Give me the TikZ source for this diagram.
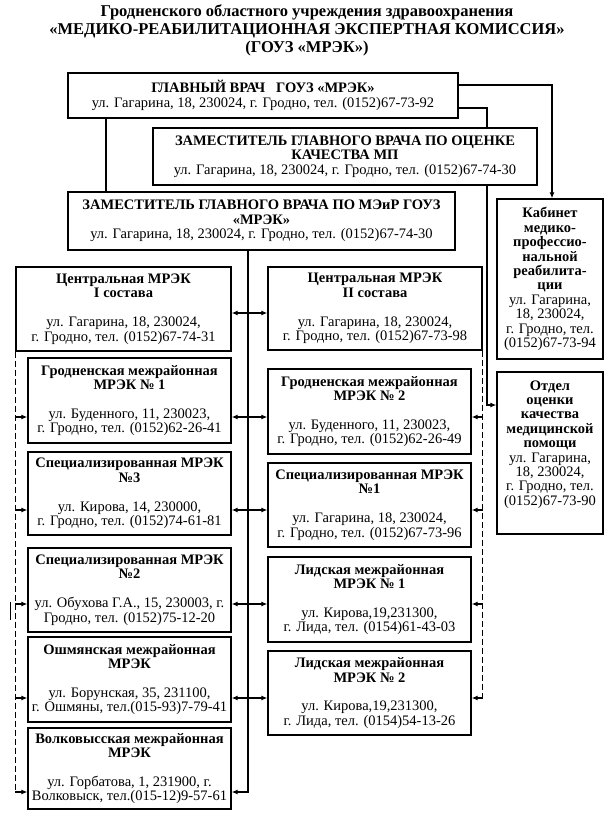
\documentclass[tikz,border=0pt]{standalone}
\usepackage{fontspec}
\setmainfont{Liberation Serif}
\usetikzlibrary{arrows.meta,calc}
\begin{document}
\begin{tikzpicture}[x=1pt,y=-1pt,
  box/.style={draw, line width=1.3pt, align=center, inner sep=1.5pt,
    font=\fontsize{14.5}{14.4}\selectfont},
  conn/.style={line width=1.3pt},
  arr/.style={line width=1.3pt, -{Latex[length=6pt,width=5pt]}},
  darr/.style={line width=1.3pt, {Latex[length=6pt,width=5pt]}-{Latex[length=6pt,width=5pt]}},
  dashline/.style={line width=1.1pt, dash pattern=on 6pt off 3pt}]
\useasboundingbox (0,0) rectangle (611,818);

\node[align=center, font=\bfseries\fontsize{16.5}{18}\selectfont] (title) at (307,30)
  {Гродненского областного учреждения здравоохранения\\
   «МЕДИКО-РЕАБИЛИТАЦИОННАЯ ЭКСПЕРТНАЯ КОМИССИЯ»\\
   (ГОУЗ «МРЭК»)};

% top boxes
\node[box, minimum width=390, minimum height=45] (gv) at (263,95.5)
  {\textbf{ГЛАВНЫЙ ВРАЧ\ \ \ ГОУЗ «МРЭК»}\\ул. Гагарина, 18, 230024, г. Гродно, тел. (0152)67-73-92};
\node[box, minimum width=384, minimum height=57] (zk) at (345,156.5)
  {\textbf{ЗАМЕСТИТЕЛЬ ГЛАВНОГО ВРАЧА ПО ОЦЕНКЕ}\\\textbf{КАЧЕСТВА МП}\\ул. Гагарина, 18, 230024, г. Гродно, тел. (0152)67-74-30};
\node[box, minimum width=387, minimum height=58] (zm) at (261.5,221)
  {\textbf{ЗАМЕСТИТЕЛЬ ГЛАВНОГО ВРАЧА ПО МЭиР ГОУЗ}\\\textbf{«МРЭК»}\\ул. Гагарина, 18, 230024, г. Гродно, тел. (0152)67-74-30};

% right side boxes
\node[box, minimum width=106, minimum height=160] (kab) at (550,279)
  {\textbf{Кабинет}\\\textbf{медико-}\\\textbf{профессио-}\\\textbf{нальной}\\\textbf{реабилита-}\\\textbf{ции}\\ул. Гагарина,\\18, 230024,\\г. Гродно, тел.\\(0152)67-73-94};
\node[box, minimum width=106, minimum height=162] (otd) at (550,453)
  {\textbf{Отдел}\\\textbf{оценки}\\\textbf{качества}\\\textbf{медицинской}\\\textbf{помощи}\\ул. Гагарина,\\18, 230024,\\г. Гродно, тел.\\(0152)67-73-90\\[6pt]{}};

% left column
\node[box, minimum width=215, minimum height=84] (c1) at (123.5,309)
  {\textbf{Центральная МРЭК}\\\textbf{I состава}\\[14.4pt]ул. Гагарина, 18, 230024,\\г. Гродно, тел. (0152)67-74-31};
\node[box, minimum width=203, minimum height=85] (g1) at (129.5,400.5)
  {\textbf{Гродненская межрайонная}\\\textbf{МРЭК № 1}\\[14.4pt]ул. Буденного, 11, 230023,\\г. Гродно, тел. (0152)62-26-41};
\node[box, minimum width=203, minimum height=83] (s3) at (129.5,493.5)
  {\textbf{Специализированная МРЭК}\\\textbf{№3}\\[14.4pt]ул. Кирова, 14, 230000,\\г. Гродно, тел. (0152)74-61-81};
\node[box, minimum width=203, minimum height=84] (s2) at (129.5,590)
  {\textbf{Специализированная МРЭК}\\\textbf{№2}\\[14.4pt]ул. Обухова Г.А., 15, 230003, г.\\Гродно, тел. (0152)75-12-20};
\node[box, minimum width=203, minimum height=85] (osh) at (129.5,679.5)
  {\textbf{Ошмянская межрайонная}\\\textbf{МРЭК}\\[14.4pt]ул. Борунская, 35, 231100,\\г. Ошмяны, тел.(015-93)7-79-41};
\node[box, minimum width=203, minimum height=81] (vol) at (129.5,768.5)
  {\textbf{Волковысская межрайонная}\\\textbf{МРЭК}\\[14.4pt]ул. Горбатова, 1, 231900, г.\\Волковыск, тел.(015-12)9-57-61};

% right column
\node[box, minimum width=214, minimum height=83] (c2) at (375,308.5)
  {\textbf{Центральная МРЭК}\\\textbf{II состава}\\[14.4pt]ул. Гагарина, 18, 230024,\\г. Гродно, тел. (0152)67-73-98};
\node[box, minimum width=203, minimum height=85] (g2) at (369.5,411.5)
  {\textbf{Гродненская межрайонная}\\\textbf{МРЭК № 2}\\[14.4pt]ул. Буденного, 11, 230023,\\г. Гродно, тел. (0152)62-26-49};
\node[box, minimum width=203, minimum height=84] (s1) at (369.5,505)
  {\textbf{Специализированная МРЭК}\\\textbf{№1}\\[14.4pt]ул. Гагарина, 18, 230024,\\г. Гродно, тел. (0152)67-73-96};
\node[box, minimum width=203, minimum height=85] (l1) at (369.5,599.5)
  {\textbf{Лидская межрайонная}\\\textbf{МРЭК № 1}\\[14.4pt]ул. Кирова,19,231300,\\г. Лида, тел. (0154)61-43-03};
\node[box, minimum width=203, minimum height=84] (l2) at (369.5,693)
  {\textbf{Лидская межрайонная}\\\textbf{МРЭК № 2}\\[14.4pt]ул. Кирова,19,231300,\\г. Лида, тел. (0154)54-13-26};

% helper coordinates
\coordinate (k1) at (552,85);
\coordinate (k2) at (487,108);
\coordinate (k3) at (487,405);
\coordinate (k4) at (106,0);
\coordinate (tr) at (248,792);
\coordinate (y1) at (0,313);
\coordinate (y2) at (0,417);
\coordinate (y3) at (0,510);
\coordinate (y4) at (0,604);
\coordinate (y5) at (0,698);

% top connectors
\draw[arr] (gv.east |- k1) -| (kab.north -| k1);
\draw[conn] (gv.east |- k2) -| (zk.north -| k2);
\draw[arr] (zk.south -| k3) |- (otd.west |- k3);
\draw[conn] (gv.south -| k4) -- (zm.north -| k4);

% trunk
\draw[arr] (zm.south -| tr) |- (vol.east |- tr);

% horizontal double arrows
\draw[darr] (c1.east |- y1) -- (c2.west |- y1);
\draw[darr] (g1.east |- y2) -- (g2.west |- y2);
\draw[darr] (s3.east |- y3) -- (s1.west |- y3);
\draw[darr] (s2.east |- y4) -- (l1.west |- y4);
\draw[darr] (osh.east |- y5) -- (l2.west |- y5);

% left dashed line
\draw[dashline] (c1.south west) -- (c1.south west |- tr);
\draw[arr] (c1.west |- y2) -- (g1.west |- y2);
\draw[arr] (c1.west |- y3) -- (s3.west |- y3);
\draw[arr] (c1.west |- y4) -- (s2.west |- y4);
\draw[arr] (c1.west |- y5) -- (osh.west |- y5);
\draw[arr] (c1.west |- tr) -- (vol.west |- tr);

% right dashed line
\draw[dashline] (c2.south east) -- (c2.south east |- y5);
\draw[arr] (c2.east |- y2) -- (g2.east |- y2);
\draw[arr] (c2.east |- y3) -- (s1.east |- y3);
\draw[arr] (c2.east |- y4) -- (l1.east |- y4);
\draw[arr] (c2.east |- y5) -- (l2.east |- y5);

% small stray mark at left
\draw[line width=0.8pt] (10,602) -- (10,620);
\end{tikzpicture}
\end{document}
